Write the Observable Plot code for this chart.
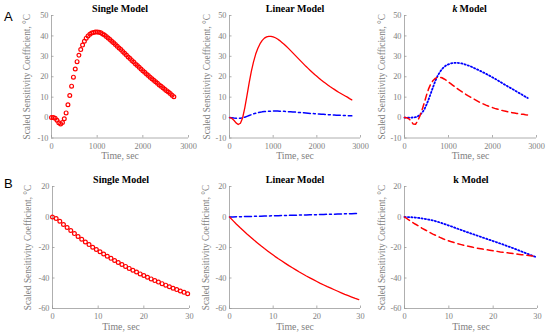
<!DOCTYPE html>
<html><head><meta charset="utf-8">
<script src="https://cdn.jsdelivr.net/npm/d3@7"></script>
<script src="https://cdn.jsdelivr.net/npm/@observablehq/plot@0.6"></script>
<style>
body{margin:0;background:#fff;}
#wrap{position:relative;width:550px;height:334px;overflow:hidden;background:#fff;}
#wrap svg{position:absolute;left:0;overflow:visible;background:transparent;}
.lab{position:absolute;font-family:"Liberation Sans",Arial,sans-serif;font-size:13px;color:#000;}
</style></head>
<body><div id="wrap"><div class="lab" style="left:4px;top:9px">A</div><div class="lab" style="left:4px;top:176px">B</div></div>
<script>
// ---- Row A: time in seconds ----
const tA = [0,40,80,120,160,200,240,280,320,360,400,440,480,520,560,600,640,680,720,760,800,840,880,920,960,1000,1040,1080,1120,1160,1200,1240,1280,1320,1360,1400,1440,1480,1520,1560,1600,1640,1680,1720,1760,1800,1840,1880,1920,1960,2000,2040,2080,2120,2160,2200,2240,2280,2320,2360,2400,2440,2480,2520,2560,2600,2640,2680];
const singleA = [0,0,-0.3,-1.3,-2.5,-3.1,-2.4,-0.6,2.3,6.3,10.8,15.4,19.8,23.8,27.4,30.5,33.3,35.5,37.4,38.9,40.0,40.8,41.4,41.7,41.9,41.9,41.8,41.5,41.0,40.4,39.7,39.0,38.2,37.4,36.6,35.8,34.9,34.1,33.3,32.4,31.5,30.6,29.7,28.9,28.0,27.2,26.3,25.5,24.6,23.8,23.0,22.2,21.4,20.6,19.8,19.0,18.3,17.5,16.8,16.0,15.3,14.6,13.9,13.2,12.5,11.8,11.0,10.2];
const tL = [0,50,100,150,200,250,300,350,400,450,500,550,600,650,700,750,800,850,900,950,1000,1050,1100,1150,1200,1250,1300,1350,1400,1450,1500,1550,1600,1650,1700,1750,1800,1850,1900,1950,2000,2050,2100,2150,2200,2250,2300,2350,2400,2450,2500,2550,2600,2650,2700,2750,2800];
const linRedA = [0,-0.3,-1.3,-2.6,-3.4,-2.8,-0.2,4.8,10.8,17.0,22.6,27.3,31.1,34.0,36.2,37.8,38.9,39.5,39.8,39.8,39.5,39.1,38.5,37.7,36.8,35.9,34.9,33.9,32.8,31.7,30.6,29.5,28.4,27.3,26.2,25.1,24.1,23.1,22.1,21.1,20.2,19.3,18.4,17.6,16.8,16.0,15.2,14.5,13.8,13.1,12.4,11.8,11.2,10.6,10.0,9.3,8.7];
const linBlueA = [0,-0.05,-0.2,-0.3,-0.35,-0.3,-0.1,0.2,0.6,1.0,1.4,1.8,2.1,2.4,2.6,2.8,2.95,3.05,3.1,3.15,3.2,3.2,3.2,3.15,3.1,3.05,3.0,2.9,2.85,2.75,2.7,2.6,2.5,2.4,2.35,2.25,2.15,2.05,2.0,1.9,1.8,1.75,1.65,1.6,1.5,1.45,1.4,1.3,1.25,1.2,1.15,1.1,1.05,1.0,0.95,0.9,0.85];
const kRedA = [0,-0.1,-0.6,-1.8,-3.2,-3.3,-1.6,0.8,3.8,7.2,11.0,14.2,16.6,18.2,19.2,19.7,19.8,19.5,18.9,18.2,17.4,16.6,15.8,15.0,14.2,13.4,12.7,12.0,11.3,10.6,10.0,9.4,8.8,8.2,7.6,7.1,6.6,6.1,5.7,5.3,4.9,4.5,4.2,3.9,3.6,3.3,3.1,2.8,2.6,2.4,2.2,2.0,1.9,1.7,1.6,1.4,1.3];
const kBlueA = [0,0,0,0,0.05,0.2,0.6,1.3,2.4,4.0,6.3,9.0,12.0,15.0,17.9,20.3,22.2,23.7,24.8,25.6,26.1,26.5,26.7,26.8,26.8,26.7,26.5,26.2,25.9,25.5,25.1,24.6,24.1,23.6,23.1,22.6,22.0,21.5,20.9,20.3,19.7,19.1,18.5,17.8,17.2,16.5,15.9,15.2,14.6,14.0,13.4,12.7,12.1,11.5,10.8,10.2,9.6];
// ---- Row B ----
const tB = [0,0.8,1.6,2.4,3.2,4.0,4.8,5.6,6.4,7.2,8.0,8.8,9.6,10.4,11.2,12.0,12.8,13.6,14.4,15.2,16.0,16.8,17.6,18.4,19.2,20.0,20.8,21.6,22.4,23.2,24.0,24.8,25.6,26.4,27.2,28.0,28.8,29.6];
const singleB = [0,-1.0,-2.8,-4.9,-6.9,-8.9,-10.9,-12.8,-14.6,-16.4,-18.1,-19.8,-21.3,-22.8,-24.3,-25.7,-27.1,-28.5,-29.8,-31.1,-32.4,-33.7,-34.9,-36.1,-37.3,-38.4,-39.5,-40.6,-41.7,-42.7,-43.7,-44.7,-45.7,-46.7,-47.6,-48.5,-49.4,-50.3];
const linRedB = [0,-2.4,-4.7,-6.9,-9.0,-11.1,-13.1,-15.1,-17.0,-18.9,-20.7,-22.4,-24.1,-25.8,-27.4,-28.9,-30.4,-31.9,-33.3,-34.7,-36.1,-37.4,-38.7,-39.9,-41.1,-42.3,-43.5,-44.6,-45.7,-46.7,-47.7,-48.7,-49.7,-50.7,-51.6,-52.5,-53.4,-54.2];
const linBlueB = [0,0.06,0.12,0.19,0.25,0.31,0.37,0.43,0.5,0.56,0.62,0.68,0.75,0.81,0.87,0.93,1.0,1.06,1.12,1.18,1.25,1.31,1.37,1.43,1.5,1.56,1.62,1.68,1.75,1.81,1.87,1.93,2.0,2.06,2.12,2.18,2.25,2.31];
const kBlueB = [0,-0.05,-0.15,-0.35,-0.6,-0.95,-1.35,-1.8,-2.3,-2.9,-3.6,-4.4,-5.2,-6.0,-6.85,-7.7,-8.55,-9.4,-10.2,-11.0,-11.8,-12.6,-13.4,-14.2,-15.0,-15.8,-16.6,-17.4,-18.2,-19.1,-19.9,-20.8,-21.7,-22.6,-23.5,-24.4,-25.3,-26.2];
const kRedB = [0,-1.6,-3.1,-4.6,-6.0,-7.4,-8.7,-10.0,-11.2,-12.3,-13.4,-14.4,-15.3,-16.1,-16.8,-17.5,-18.1,-18.7,-19.2,-19.7,-20.2,-20.6,-21.0,-21.4,-21.8,-22.2,-22.5,-22.9,-23.2,-23.5,-23.8,-24.1,-24.4,-24.7,-25.0,-25.2,-25.5,-25.8];
// ---- ticks & labels ----
const xTicksA = [0,1000,2000,3000], yTicksA = [-10,0,10,20,30,40,50];
const xTicksB = [0,10,20,30], yTicksB = [-60,-40,-20,0,20];
const titles = ["Single Model","Linear Model","k Model"];
const yLabel = "Scaled Sensitivity Coefficient, \u00B0C";
const xLabel = "Time, sec";

const FONT = '"Liberation Serif","Times New Roman",serif';
const GREY = "#808080", AX = "#9a9a9a";
const RED = "#ff0000", BLUE = "#0000ff";

function panel({x0,x1,top,mt,mb,xd,yd,xt,yt,title,italicK,ylDx,marks}){
  const W = 550, H = 167;
  const xs = (xd[1]-xd[0])/(x1-x0); // data per px
  const ys = (yd[1]-yd[0])/(H-mt-mb);
  const titleMarks = italicK ? [
    Plot.text(["k"], {frameAnchor:"top", dx:-18, dy:-7, lineAnchor:"middle", textAnchor:"start", fontStyle:"italic", fontWeight:"bold", fontSize:10, fill:"#000"}),
    Plot.text(["Model"], {frameAnchor:"top", dx:-11, dy:-7, lineAnchor:"middle", textAnchor:"start", fontWeight:"bold", fontSize:10, fill:"#000"})
  ] : [Plot.text([title], {frameAnchor:"top", dy:-7, lineAnchor:"middle", textAnchor:"middle", fontWeight:"bold", fontSize:10, fill:"#000"})];
  const svg = Plot.plot({
    width: W, height: H,
    marginLeft: x0, marginRight: W - x1, marginTop: mt, marginBottom: mb,
    x: {domain: xd}, y: {domain: yd},
    style: {fontFamily: FONT, background: "transparent", overflow: "visible"},
    marks: [
      Plot.ruleX([xd[0]], {stroke: AX, strokeWidth: 0.8}),
      Plot.ruleY([yd[0]], {stroke: AX, strokeWidth: 0.8}),
      Plot.ruleX(xt, {x: d => d, y1: yd[0], y2: yd[0] + 2.5*ys, stroke: AX, strokeWidth: 0.8}),
      Plot.ruleY(yt, {y: d => d, x1: xd[0], x2: xd[0] + 2.5*xs, stroke: AX, strokeWidth: 0.8}),
      Plot.axisX(xt, {tickSize: 0, tickPadding: 5, fontSize: 8.3, fill: GREY, label: null, tickFormat: d => String(d)}),
      Plot.axisY(yt, {tickSize: 0, tickPadding: 3, fontSize: 8.3, fill: GREY, label: null, tickFormat: d => String(d)}),
      ...marks,
      ...titleMarks,
      Plot.text([yLabel], {frameAnchor: "left", rotate: -90, dx: ylDx, lineAnchor: "middle", textAnchor: "middle", fontSize: 9.3, fill: GREY}),
      Plot.text([xLabel], {frameAnchor: "bottom", dy: 18, lineAnchor: "middle", textAnchor: "middle", fontSize: 9.8, fill: GREY})
    ]
  });
  svg.style.top = top + "px";
  document.getElementById("wrap").appendChild(svg);
}

const dash = {dashdot: "7,3,2,3", dashed: "6,4", dotted: "1.2,2.2"};
const rowA = {top: 0, mt: 15, mb: 29.5, xd: [0,3000], yd: [-10,50], xt: xTicksA, yt: yTicksA};
const rowB = {top: 167, mt: 19, mb: 26, xd: [0,30], yd: [-60,20], xt: xTicksB, yt: yTicksB};

panel({...rowA, x0: 51, x1: 188, title: titles[0], ylDx: -24, marks: [
  Plot.dot(singleA, {x: tA, y: singleA, r: 1.9, stroke: RED, strokeWidth: 1.2, fill: "none"})
]});
panel({...rowA, x0: 229, x1: 360, title: titles[1], ylDx: -22, marks: [
  Plot.line(linBlueA, {x: tL, y: linBlueA, stroke: BLUE, strokeWidth: 1.5, strokeDasharray: dash.dashdot}),
  Plot.line(linRedA, {x: tL, y: linRedA, stroke: RED, strokeWidth: 1.3})
]});
panel({...rowA, x0: 404, x1: 536, title: titles[2], italicK: true, ylDx: -22, marks: [
  Plot.line(kBlueA, {x: tL, y: kBlueA, stroke: BLUE, strokeWidth: 1.8, strokeDasharray: dash.dotted}),
  Plot.line(kRedA, {x: tL, y: kRedA, stroke: RED, strokeWidth: 1.5, strokeDasharray: dash.dashed})
]});
panel({...rowB, x0: 52, x1: 189, title: titles[0], ylDx: -24, marks: [
  Plot.dot(singleB, {x: tB, y: singleB, r: 1.9, stroke: RED, strokeWidth: 1.2, fill: "none"})
]});
panel({...rowB, x0: 229, x1: 360, title: titles[1], ylDx: -23, marks: [
  Plot.line(linBlueB, {x: tB, y: linBlueB, stroke: BLUE, strokeWidth: 1.5, strokeDasharray: dash.dashdot}),
  Plot.line(linRedB, {x: tB, y: linRedB, stroke: RED, strokeWidth: 1.3})
]});
panel({...rowB, x0: 404, x1: 537, title: titles[2], ylDx: -22, marks: [
  Plot.line(kBlueB, {x: tB, y: kBlueB, stroke: BLUE, strokeWidth: 1.8, strokeDasharray: dash.dotted}),
  Plot.line(kRedB, {x: tB, y: kRedB, stroke: RED, strokeWidth: 1.5, strokeDasharray: dash.dashed})
]});
</script></body></html>
